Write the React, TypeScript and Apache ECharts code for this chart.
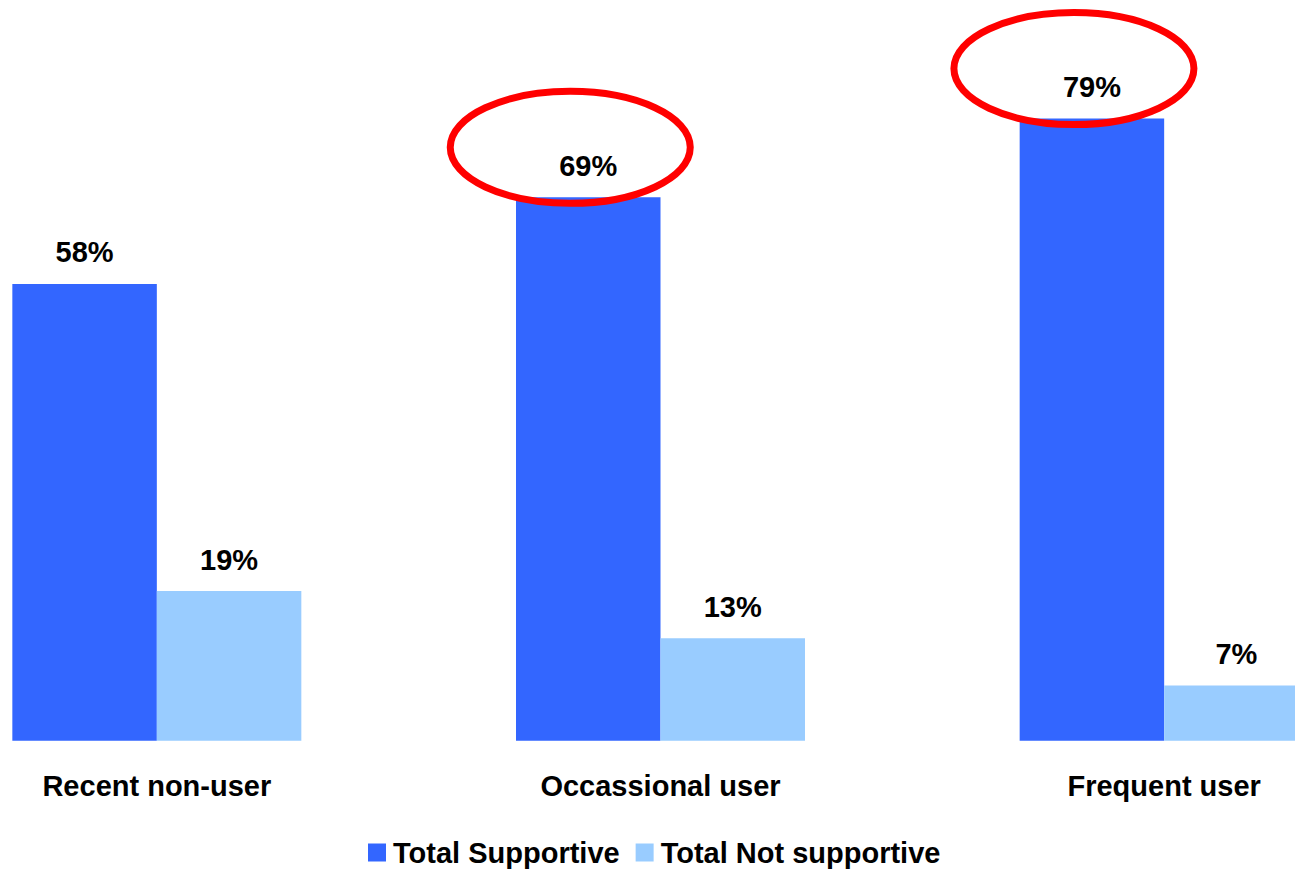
import React, { useEffect, useRef } from "react";
import * as echarts from "echarts";

const categories = ["Recent non-user", "Occassional user", "Frequent user"];
const supportive = [58, 69, 79];
const notSupportive = [19, 13, 7];
const seriesNames = ["Total Supportive", "Total Not supportive"];
const highlighted = [1, 2]; // categories circled in red

const FONT = "'Liberation Sans', Arial, sans-serif";
const OFFSET = 95; // chart extends past the left edge of the visible frame
const CHART_W = 1511;

export default function App() {
  const ref = useRef<HTMLDivElement>(null);

  useEffect(() => {
    if (!ref.current) return;
    const chart = echarts.init(ref.current, null, { renderer: "svg" });
    const labelStyle = {
      show: true,
      position: "top" as const,
      distance: 17,
      formatter: "{c}%",
      color: "#000",
      fontFamily: FONT,
      fontWeight: "bold" as const,
      fontSize: 29,
    };
    chart.setOption({
      animation: false,
      backgroundColor: "#ffffff",
      grid: { left: 0, right: 0, top: 0.5, bottom: 131.3, containLabel: false },
      legend: {
        data: seriesNames,
        left: 368 + OFFSET,
        top: 838,
        padding: 0,
        itemWidth: 18,
        itemHeight: 18,
        itemGap: 16,
        icon: "rect",
        textStyle: { color: "#000", fontFamily: FONT, fontWeight: "bold", fontSize: 29, lineHeight: 29, padding: [0, 0, 0, 2] },
      },
      xAxis: {
        type: "category",
        data: categories,
        axisLine: { show: false },
        axisTick: { show: false },
        axisLabel: { color: "#000", fontFamily: FONT, fontWeight: "bold", fontSize: 29, margin: 31 },
      },
      yAxis: { type: "value", min: 0, max: 94, show: false, splitLine: { show: false } },
      series: [
        {
          name: seriesNames[0],
          type: "bar",
          data: supportive,
          barWidth: 144.5,
          barGap: "0%",
          itemStyle: { color: "#3366FF" },
          label: labelStyle,
        },
        {
          name: seriesNames[1],
          type: "bar",
          data: notSupportive,
          barWidth: 144.5,
          barGap: "0%",
          itemStyle: { color: "#99CCFF" },
          label: labelStyle,
        },
      ],
    });

    // Red ellipses around the highlighted labels, positioned from the data
    const ellipses = highlighted.map((i) => {
      const p = chart.convertToPixel({ seriesIndex: 0 }, [i, supportive[i]]) as number[];
      const barCenterX = p[0] - 72.25;
      return {
        type: "ellipse",
        shape: { cx: barCenterX - 18, cy: p[1] - 50, rx: 120, ry: 56 },
        style: { fill: "none", stroke: "#FF0000", lineWidth: 7 },
        z: 100,
      };
    });
    chart.setOption({ graphic: ellipses });

    return () => chart.dispose();
  }, []);

  return (
    <div
      style={{
        position: "absolute",
        left: 0,
        top: 0,
        width: 1295,
        height: 872,
        overflow: "hidden",
        background: "#fff",
      }}
    >
      <div
        ref={ref}
        style={{ position: "absolute", left: -OFFSET, top: 0, width: CHART_W, height: 872 }}
      />
    </div>
  );
}
